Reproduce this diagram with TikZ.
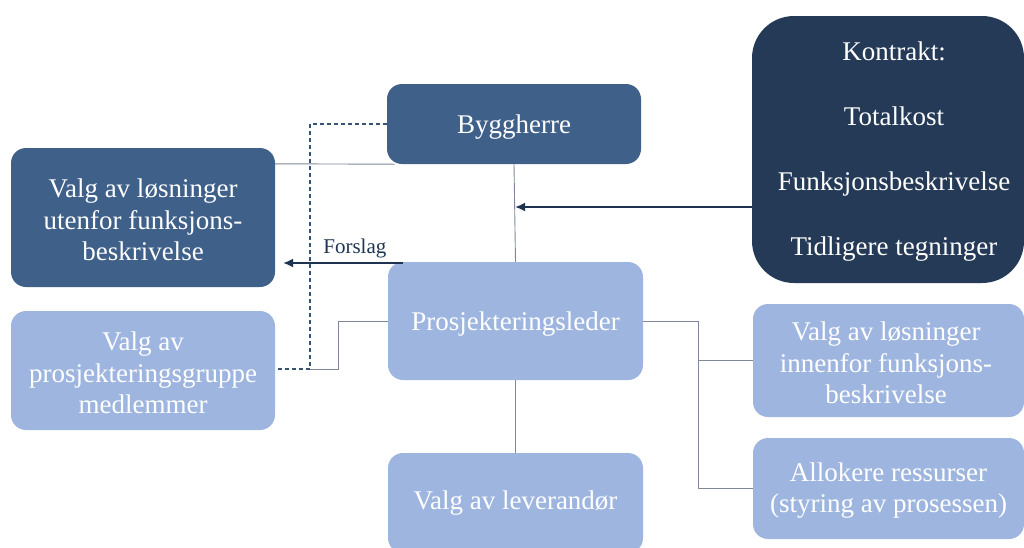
\documentclass[tikz,border=0pt]{standalone}
\usepackage{fontspec}
\setmainfont{Liberation Serif}
\usetikzlibrary{arrows.meta,calc}
\definecolor{boxdark}{HTML}{3F6089}
\definecolor{boxnavy}{HTML}{253A57}
\definecolor{boxlight}{HTML}{9EB6DF}
\definecolor{linegray}{HTML}{7E8898}
\definecolor{arrowdark}{HTML}{1F3450}
\begin{document}
\begin{tikzpicture}[x=1pt,y=-1pt,
  box/.style={rectangle,rounded corners=15pt,text=white,align=center,
    inner sep=0pt,font=\fontsize{27}{31.5}\selectfont},
  oneline/.style={text height=25pt,text depth=6pt},
  darkbox/.style={box,fill=boxdark},
  lightbox/.style={box,fill=boxlight},
  navybox/.style={box,fill=boxnavy,rounded corners=42pt},
  link/.style={draw=linegray,line width=0.9pt},
  dashlink/.style={draw=boxdark!85!black,line width=1.1pt,dashed,dash pattern=on 4pt off 3pt},
  arrowlink/.style={draw=arrowdark,line width=2pt,-{Latex[length=10pt,width=9pt]}}]
\useasboundingbox (0,0) rectangle (1024,547);
\clip (0,0) rectangle (1024,547);

% boxes
\node[darkbox,oneline,minimum width=254pt,minimum height=80pt] (bh) at (514,124) {Byggherre};
\node[darkbox,minimum width=264pt,minimum height=139pt] (ut) at (143,217.5) {};
\node[box] (utt) at (143,220) {Valg av løsninger\\utenfor funksjons-\\beskrivelse};
\node[lightbox,minimum width=264pt,minimum height=119pt] (gr) at (143,370.5) {};
\node[box] (grt) at (143,373) {Valg av\\prosjekteringsgruppe\\medlemmer};
\node[lightbox,oneline,minimum width=255pt,minimum height=118pt] (pl) at (515.5,321) {Prosjekteringsleder};
\node[lightbox,minimum width=255pt,minimum height=100pt] (lv) at (515.5,503) {Valg av leverandør};
\node[navybox,minimum width=272pt,minimum height=267pt] (ko) at (888,149.5) {};
\node[box] (kt) at (894,152)
  {Kontrakt:\\[33.5pt]Totalkost\\[33.5pt]Funksjonsbeskrivelse\\[33.5pt]Tidligere tegninger};
\node[lightbox,minimum width=271pt,minimum height=113pt] (in) at (888.5,360.5) {};
\node[box] (int) at (886,363) {Valg av løsninger\\innenfor funksjons-\\beskrivelse};
\node[lightbox,minimum width=271pt,minimum height=101pt] (al) at (888.5,488.5) {};
\node[box] (alt) at (888.5,490.5) {Allokere ressurser\\(styring av prosessen)};

% junction points
\coordinate (jl) at (310,369);
\coordinate (jr) at (698,321);
\coordinate (ja) at (515,207);
\coordinate (fs) at (283,263);

% solid connectors
\draw[link] (bh.south) -- (pl.north);
\draw[link] ($(ut.north east)+(0,16)$) -- ($(bh.south west)+(8,0)$);
\draw[link] (pl.south) -- (lv.north);
\draw[link] (pl.west) -- ++(-49,0) |- (jl);
\draw[link] (pl.east) -- (jr) |- (in.west);
\draw[link] (jr) |- (al.west);

% dashed connector
\draw[dashlink] (bh.west) -| (jl) -- (gr.east |- jl);

% arrows
\draw[arrowlink] (ko.west |- ja) -- (ja);
\draw[arrowlink] (pl.north west |- fs) ++(15,0) -- node[pos=0.4,above=1pt,text=arrowdark,font=\fontsize{21}{24}\selectfont] (fl) {Forslag} (fs);
\end{tikzpicture}
\end{document}
